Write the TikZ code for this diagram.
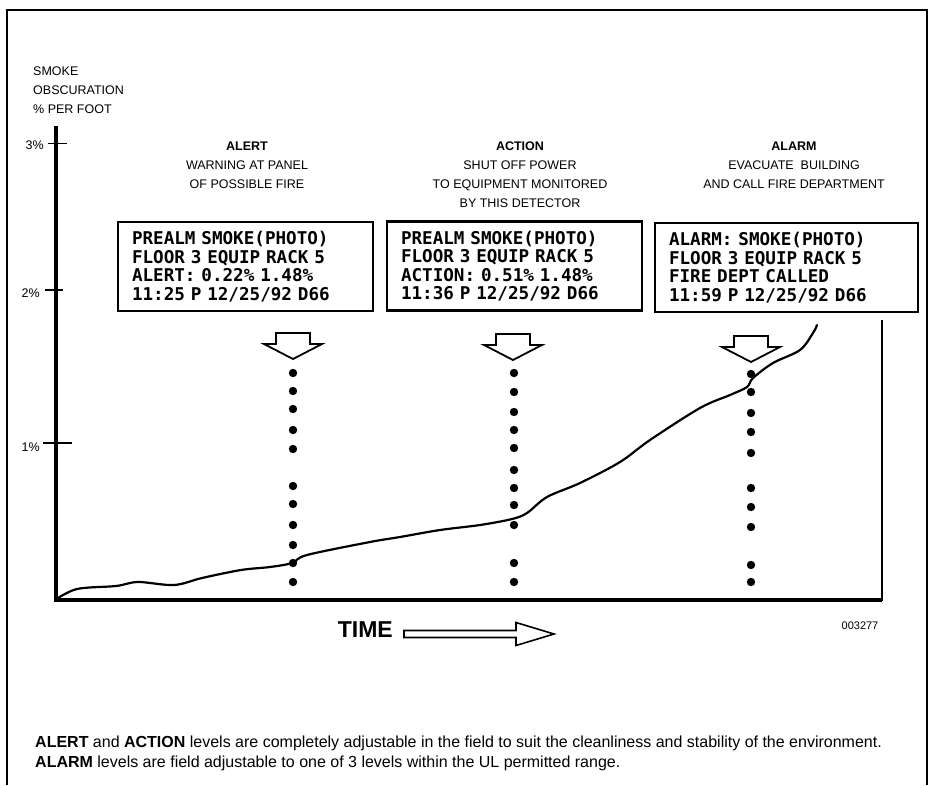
\documentclass[tikz,border=0pt]{standalone}
\usepackage{fontspec}
\setmainfont{Liberation Sans}
\newfontfamily\lcdfont{DejaVu Sans Mono}
\usetikzlibrary{calc}
\DeclareRobustCommand\lcdtype{\lcdfont\bfseries\fontsize{17.6}{18.5}\selectfont\spaceskip=10.6pt\relax}
\def\hollowdown(#1,#2){\draw[line width=1.8pt, fill=white] (#1-17,#2) -- (#1+17,#2) -- (#1+17,#2+11) -- (#1+29,#2+11) -- (#1,#2+26) -- (#1-29,#2+11) -- (#1-17,#2+11) -- cycle;}
\tikzset{
	lcdbox/.style={draw, line width=2.8pt, inner xsep=14pt, inner ysep=0pt, minimum height=89pt, align=left, font=\lcdtype},
	headtext/.style={inner sep=0pt, align=center, anchor=north, font=\fontsize{12.5}{19}\selectfont},
	dotmark/.style={fill=black}
}

\begin{document}
\begin{tikzpicture}[x=1pt, y=-1pt]
			%%%%% START %%%%%
			\useasboundingbox (0,0) rectangle (932,785);
			
			\draw[line width=1.5pt] (7,785) -- (7,10) -- (927,10) -- (927,785);
			
			\node[inner sep=0pt, anchor=north west, align=left, font=\fontsize{12.5}{19}\selectfont] (ylabel) at (33,66.5) {SMOKE\\OBSCURATION\\\% PER FOOT};
			
			\draw[line width=3.5pt] (56,126) -- (56,601);
			\draw[line width=3.5pt] (54,600) -- (882,600);
			\draw[line width=2.5pt] (882,320) -- (882,601);
			
			\draw[line width=1pt] (48,143) -- (67,143);
			\draw[line width=2pt] (45,290) -- (63,290);
			\draw[line width=2pt] (43,443) -- (72,443);
			\node[inner sep=0pt, anchor=east, font=\fontsize{12.5}{15}\selectfont] (pct3) at (44,145) {3\%};
			\node[inner sep=0pt, anchor=east, font=\fontsize{12.5}{15}\selectfont] (pct2) at (40,293) {2\%};
			\node[inner sep=0pt, anchor=east, font=\fontsize{12.5}{15}\selectfont] (pct1) at (40,447) {1\%};
			
			\node[headtext] (alerthead) at (247,141.5) {\textbf{ALERT}\\WARNING AT PANEL\\OF POSSIBLE FIRE};
			\node[headtext] (actionhead) at (520,141.5) {\textbf{ACTION}\\SHUT OFF POWER\\TO EQUIPMENT MONITORED\\BY THIS DETECTOR};
			\node[headtext] (alarmhead) at (794,141.5) {\textbf{ALARM}\\EVACUATE\ \ BUILDING\\AND CALL FIRE DEPARTMENT};
			
			\node[lcdbox, text width=227pt] (alertbox) at (245.5,266.5) {PREALM SMOKE(PHOTO)\\FLOOR 3 EQUIP RACK 5\\ALERT: 0.22\% 1.48\%\\11:25 P 12/25/92 D66};
			\node[lcdbox, text width=227pt] (actionbox) at (514.5,266) {PREALM SMOKE(PHOTO)\\FLOOR 3 EQUIP RACK 5\\ACTION: 0.51\% 1.48\%\\11:36 P 12/25/92 D66};
			\node[lcdbox, text width=235pt] (alarmbox) at (786.5,267.5) {ALARM: SMOKE(PHOTO)\\FLOOR 3 EQUIP RACK 5\\FIRE DEPT CALLED\\11:59 P 12/25/92 D66};
			
			\hollowdown(293,333)
			\hollowdown(513,334)
			\hollowdown(751,336)
			
			\foreach \y in {373,391,409,430,449,486,504,525,545,563,582}
				\fill[dotmark] (293,\y) circle[radius=4.2pt];
			\foreach \y in {373,392,412,430,448,470,488,505,525,563,582}
				\fill[dotmark] (514,\y) circle[radius=4.2pt];
			\foreach \y in {374,392,413,432,453,488,507,527,565,582}
				\fill[dotmark] (751,\y) circle[radius=4.2pt];
			
			\draw[line width=2.2pt, line cap=round] plot[smooth, tension=0.55] coordinates {(55,600) (77,589) (116,586) (138,582) (174,585) (202,578) (241,570) (270,567) (292,563) (307,555) (370,542) (400,537) (440,530) (480,525) (512,519) (527,513) (547,497) (580,483) (620,462) (650,440) (700,408) (730,395) (747,387) (753,378) (773,363) (800,350) (813,333) (817,325)};
			
			\node[inner sep=0pt, anchor=east, font=\bfseries\fontsize{23}{25}\selectfont] (timelabel) at (393,630) {TIME};
			\draw[line width=1.6pt, fill=white] (404,630.5) -- (516,630.5) -- (516,622.5) -- (554,634) -- (516,645.5) -- (516,637.5) -- (404,637.5) -- cycle;
			
			\node[inner sep=0pt, font=\fontsize{11}{13}\selectfont] (figno) at (860,626) {003277};
			
			\node[inner sep=0pt, anchor=north west, align=left, font=\fontsize{16}{19.5}\selectfont] (footnote) at (35,736) {\textbf{ALERT} and \textbf{ACTION} levels are completely adjustable in the field to suit the cleanliness and stability of the environment.\\\textbf{ALARM} levels are field adjustable to one of 3 levels within the UL permitted range.};
			
			%%%%% END %%%%%
\end{tikzpicture}
\end{document}
